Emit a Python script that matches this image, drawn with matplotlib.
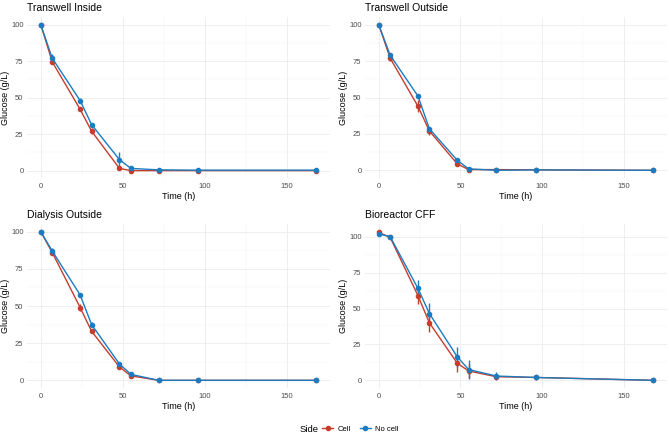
import matplotlib

matplotlib.use("Agg")
import matplotlib.pyplot as plt
from matplotlib.lines import Line2D
import numpy as np

plt.rcParams["font.family"] = ["Liberation Sans", "DejaVu Sans"]

time_h = [0, 7, 24, 31, 48, 55, 72, 96, 168]
panels = ["Transwell Inside", "Transwell Outside", "Dialysis Outside", "Bioreactor CFF"]

cell_mean = {
    "Transwell Inside": [100, 74.5, 42, 27, 1.5, 0, 0, 0, 0],
    "Transwell Outside": [100, 77, 44, 27, 4.5, 0.5, 0.5, 0.3, 0],
    "Dialysis Outside": [100, 86, 49, 33, 9, 3, 0, 0, 0],
    "Bioreactor CFF": [103, 99.5, 59, 40, 12, 6.5, 2.5, 2, 0],
}
cell_err = {
    "Transwell Inside": [0.5, 1.5, 1, 2, 0.5, 0.3, 0, 0, 0],
    "Transwell Outside": [0.5, 2, 4, 2.5, 1, 1, 0.5, 0.3, 0],
    "Dialysis Outside": [0.5, 2, 2.5, 1, 1, 0.5, 0, 0, 0],
    "Bioreactor CFF": [1, 1, 6, 6.5, 6, 5, 1.5, 1, 0],
}
nocell_mean = {
    "Transwell Inside": [100, 77, 48, 31.5, 7.5, 1.5, 0.5, 0.3, 0.3],
    "Transwell Outside": [100, 79, 51, 28.5, 7, 1, 0, 0.3, 0],
    "Dialysis Outside": [100, 87, 57.5, 37.5, 11, 4, 0, 0, 0],
    "Bioreactor CFF": [102, 100, 64, 46.5, 16.5, 7.5, 3, 2, 0],
}
nocell_err = {
    "Transwell Inside": [0.5, 3, 2, 1, 5.5, 0.5, 0.3, 0, 0],
    "Transwell Outside": [0.5, 1.5, 1.5, 1.5, 0.5, 0.5, 0.3, 0, 0],
    "Dialysis Outside": [0.5, 2, 1, 1.5, 1, 0.5, 0, 0, 0],
    "Bioreactor CFF": [1, 1, 6, 7, 7, 6.5, 3, 2, 0],
}

RED = "#C63D2D"
BLUE = "#1C7CC0"
W, H = 669, 433

# panel boxes in pixels: left, top, right, bottom
boxes = [(27, 16.6, 330, 178.4), (365, 16.6, 667, 178.4),
         (27, 223.5, 330, 387.8), (365, 223.5, 667, 387.8)]

fig = plt.figure(figsize=(W / 100, H / 100), dpi=100, facecolor="white")

for name, (l, t, r, b) in zip(panels, boxes):
    ax = fig.add_axes([l / W, 1 - b / H, (r - l) / W, (b - t) / H])
    ax.set_facecolor("white")
    for spine in ax.spines.values():
        spine.set_visible(False)

    series = [(cell_mean[name], cell_err[name], RED), (nocell_mean[name], nocell_err[name], BLUE)]
    lo, hi = 0.0, 0.0
    for mean, err, color in series:
        m, e = np.array(mean), np.array(err)
        lo, hi = min(lo, (m - e).min()), max(hi, (m + e).max())
        ax.errorbar(time_h, m, yerr=e, color=color, lw=1.0, marker="o", ms=3.0,
                    elinewidth=1.0, capsize=0, zorder=3)
    span = hi - lo
    ax.set_ylim(lo - 0.05 * span, hi + 0.05 * span)
    ax.set_xlim(-8.4, 176.4)

    ax.set_xticks([0, 50, 100, 150])
    ax.set_xticks([25, 75, 125], minor=True)
    ax.set_yticks([0, 25, 50, 75, 100])
    ax.set_yticks([12.5, 37.5, 62.5, 87.5], minor=True)
    ax.grid(which="major", color="#EBEBEB", lw=0.6)
    ax.grid(which="minor", color="#F3F3F3", lw=0.35)
    ax.set_axisbelow(True)
    ax.tick_params(which="both", length=0, labelsize=5.5, labelcolor="#4D4D4D")
    ax.tick_params(axis="x", pad=3.5)
    ax.tick_params(axis="y", pad=2.5)

    ax.set_title(name, loc="left", fontsize=7.5, color="black", pad=4)
    ax.set_xlabel("Time (h)", fontsize=6.5, labelpad=1.5)
    ax.set_ylabel("Glucose (g/L)", fontsize=6.5, labelpad=0.5)

handles = [Line2D([], [], color=RED, marker="o", ms=3.0, lw=1.0),
           Line2D([], [], color=BLUE, marker="o", ms=3.0, lw=1.0)]
fig.text(300 / W, 1 - 429 / H, "Side", fontsize=6.8, va="center", ha="left")
fig.legend(handles, ["Cell", "No cell"], loc="center left", bbox_to_anchor=(322 / W, 1 - 429 / H),
           ncol=2, frameon=False, fontsize=5.5, handlelength=1.5, handletextpad=0.5,
           columnspacing=1.2, borderaxespad=0, borderpad=0)

fig.savefig("out.png", dpi=100, facecolor=fig.get_facecolor())
